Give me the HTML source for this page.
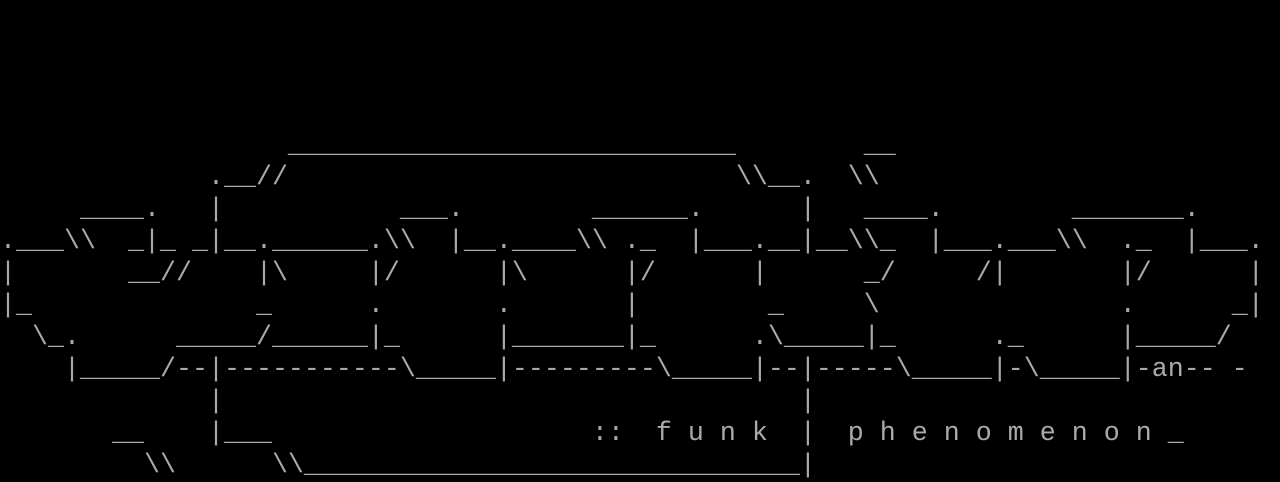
<!DOCTYPE html>
<html><head><meta charset="utf-8"><style>
html,body{margin:0;padding:0;background:#000;width:1280px;height:480px;overflow:hidden}
pre{position:absolute;left:0;top:130px;margin:0;font-family:"Liberation Mono",monospace;font-size:26.667px;line-height:32px;color:#aaa;white-space:pre}
</style></head><body><pre>                  ____________________________        __
             .__//                            \\__.  \\
     ____.   |           ___.        ______.      |   ____.        _______.
.___\\  _|_ _|__.______.\\  |__.____\\ ._  |___.__|__\\_  |___.___\\  ._  |___.
|       __//    |\     |/      |\      |/      |      _/     /|       |/      |
|_              _      .       .       |        _     \               .      _|
  \_.      _____/______|_      |_______|_      .\_____|_      ._      |_____/
    |_____/--|-----------\_____|---------\_____|--|-----\_____|-\_____|-an-- -
             |                                    |
       __    |___                    ::  f u n k  |  p h e n o m e n o n _
         \\      \\_______________________________|</pre></body></html>
